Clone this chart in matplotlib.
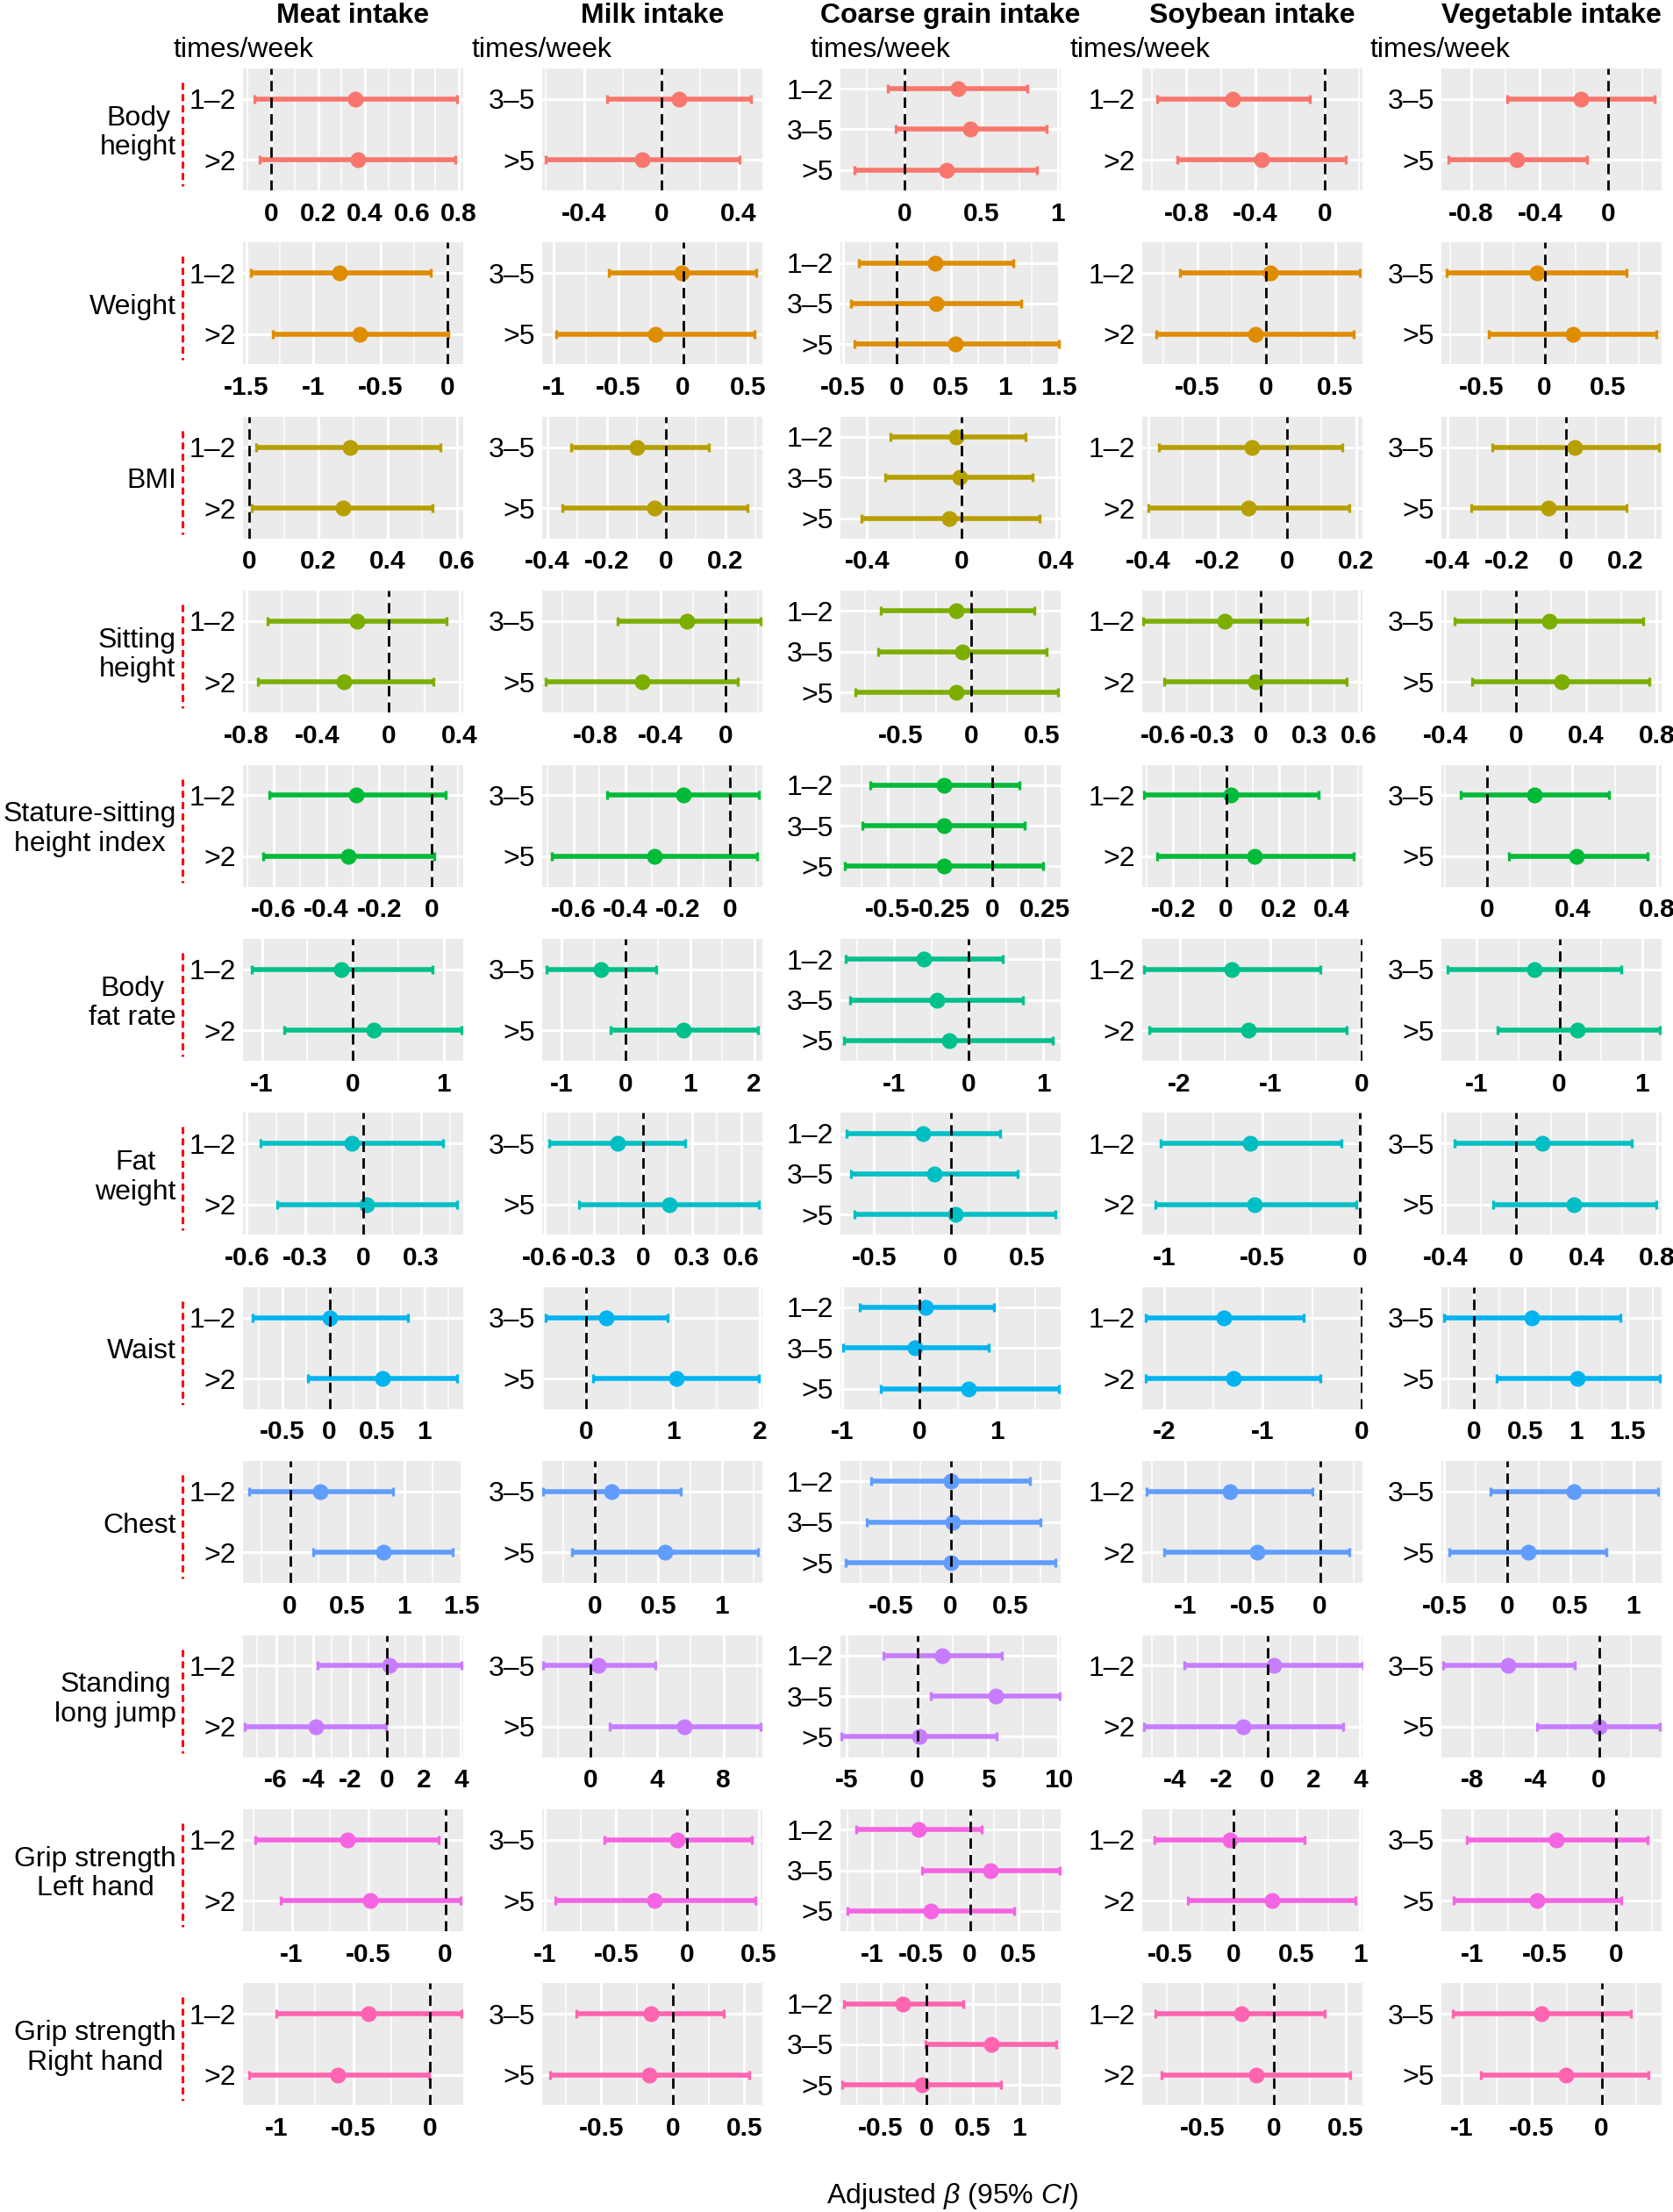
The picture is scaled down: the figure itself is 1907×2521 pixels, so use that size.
#!/usr/bin/env python3
# Forest plots: adjusted beta (95% CI) of food intake frequency vs body measures.
import matplotlib
matplotlib.use("Agg")
import matplotlib.pyplot as plt
from matplotlib.lines import Line2D
import numpy as np

plt.rcParams['font.family'] = ['Liberation Sans', 'DejaVu Sans']
plt.rcParams['mathtext.fontset'] = 'custom'
plt.rcParams['mathtext.rm'] = 'Liberation Sans'
plt.rcParams['mathtext.it'] = 'Liberation Sans:italic'

outcomes = ["Body\nheight", "Weight", "BMI", "Sitting\nheight",
            "Stature-sitting\nheight index", "Body\nfat rate", "Fat\nweight",
            "Waist", "Chest", "Standing\nlong jump",
            "Grip strength\nLeft hand", "Grip strength\nRight hand"]
colors = ["#F8766D", "#DE8C00", "#B79F00", "#7CAE00", "#00BA38", "#00C08B",
          "#00BFC4", "#00B4F0", "#619CFF", "#C77CFF", "#F564E3", "#FF64B0"]
columns = ["Meat intake", "Milk intake", "Coarse grain intake",
           "Soybean intake", "Vegetable intake"]

meat_groups = ["1\u20132", ">2"]
milk_groups = ["3\u20135", ">5"]
coarse_groups = ["1\u20132", "3\u20135", ">5"]
soy_groups = ["1\u20132", ">2"]
veg_groups = ["3\u20135", ">5"]

# (estimate, lower, upper) per group, one entry per outcome row
meat = [
    [(0.357, -0.071, 0.793), (0.371, -0.048, 0.784)],
    [(-0.806, -1.468, -0.125), (-0.653, -1.302, 0.008)],
    [(0.29, 0.02, 0.552), (0.27, 0.006, 0.531)],
    [(-0.179, -0.678, 0.325), (-0.249, -0.736, 0.252)],
    [(-0.288, -0.618, 0.051), (-0.316, -0.639, 0.008)],
    [(-0.131, -1.113, 0.875), (0.226, -0.756, 1.196)],
    [(-0.059, -0.531, 0.411), (0.02, -0.442, 0.484)],
    [(0.006, -0.811, 0.823), (0.56, -0.229, 1.349)],
    [(0.265, -0.355, 0.9), (0.815, 0.204, 1.422)],
    [(0.117, -3.77, 4.035), (-3.86, -7.69, -0.03)],
    [(-0.637, -1.236, -0.042), (-0.489, -1.07, 0.099)],
    [(-0.399, -1.0, 0.205), (-0.601, -1.177, -0.007)],
]
milk = [
    [(0.092, -0.28, 0.464), (-0.101, -0.601, 0.403)],
    [(-0.008, -0.575, 0.562), (-0.212, -0.983, 0.554)],
    [(-0.1, -0.32, 0.144), (-0.04, -0.351, 0.273)],
    [(-0.235, -0.661, 0.215), (-0.512, -1.104, 0.073)],
    [(-0.18, -0.47, 0.112), (-0.29, -0.683, 0.104)],
    [(-0.387, -1.235, 0.479), (0.899, -0.235, 2.059)],
    [(-0.155, -0.572, 0.257), (0.161, -0.388, 0.704)],
    [(0.231, -0.467, 0.935), (1.04, 0.081, 1.988)],
    [(0.132, -0.404, 0.677), (0.553, -0.179, 1.285)],
    [(0.455, -2.86, 3.87), (5.66, 1.14, 10.21)],
    [(-0.068, -0.58, 0.455), (-0.231, -0.924, 0.477)],
    [(-0.155, -0.675, 0.358), (-0.166, -0.857, 0.532)],
]
coarse = [
    [(0.347, -0.108, 0.801), (0.43, -0.058, 0.928), (0.271, -0.325, 0.866)],
    [(0.354, -0.354, 1.082), (0.364, -0.426, 1.149), (0.544, -0.39, 1.503)],
    [(-0.021, -0.302, 0.271), (-0.009, -0.323, 0.302), (-0.051, -0.423, 0.33)],
    [(-0.109, -0.64, 0.441), (-0.066, -0.66, 0.527), (-0.109, -0.82, 0.613)],
    [(-0.232, -0.584, 0.129), (-0.232, -0.621, 0.153), (-0.232, -0.703, 0.242)],
    [(-0.602, -1.658, 0.461), (-0.431, -1.591, 0.729), (-0.268, -1.68, 1.13)],
    [(-0.181, -0.681, 0.322), (-0.109, -0.652, 0.442), (0.029, -0.627, 0.688)],
    [(0.079, -0.774, 0.96), (-0.057, -0.989, 0.896), (0.638, -0.502, 1.8)],
    [(0.0, -0.667, 0.662), (0.019, -0.699, 0.75), (0.0, -0.88, 0.88)],
    [(1.767, -2.395, 5.968), (5.575, 0.98, 10.13), (0.118, -5.42, 5.654)],
    [(-0.527, -1.167, 0.119), (0.215, -0.493, 0.924), (-0.402, -1.252, 0.453)],
    [(-0.257, -0.898, 0.395), (0.7, -0.012, 1.401), (-0.054, -0.916, 0.802)],
]
soy = [
    [(-0.531, -0.968, -0.084), (-0.363, -0.855, 0.123)],
    [(0.028, -0.626, 0.679), (-0.077, -0.801, 0.638)],
    [(-0.1, -0.371, 0.161), (-0.11, -0.4, 0.182)],
    [(-0.223, -0.72, 0.285), (-0.031, -0.59, 0.528)],
    [(0.019, -0.312, 0.352), (0.108, -0.261, 0.483)],
    [(-1.428, -2.394, -0.449), (-1.243, -2.332, -0.166)],
    [(-0.562, -1.02, -0.092), (-0.539, -1.049, -0.017)],
    [(-1.394, -2.181, -0.589), (-1.292, -2.181, -0.414)],
    [(-0.668, -1.286, -0.058), (-0.469, -1.154, 0.22)],
    [(0.265, -3.59, 4.12), (-1.036, -5.325, 3.253)],
    [(-0.026, -0.622, 0.565), (0.304, -0.362, 0.962)],
    [(-0.23, -0.825, 0.354), (-0.121, -0.786, 0.529)],
]
veg = [
    [(-0.159, -0.593, 0.272), (-0.534, -0.936, -0.126)],
    [(-0.062, -0.775, 0.652), (0.229, -0.441, 0.89)],
    [(0.028, -0.25, 0.312), (-0.06, -0.321, 0.202)],
    [(0.192, -0.346, 0.724), (0.261, -0.246, 0.759)],
    [(0.22, -0.128, 0.573), (0.421, 0.102, 0.753)],
    [(-0.309, -1.356, 0.745), (0.221, -0.752, 1.215)],
    [(0.151, -0.346, 0.657), (0.33, -0.129, 0.795)],
    [(0.565, -0.293, 1.435), (1.011, 0.217, 1.821)],
    [(0.529, -0.137, 1.194), (0.163, -0.458, 0.784)],
    [(-5.72, -9.86, -1.544), (0.0, -3.895, 3.86)],
    [(-0.413, -1.039, 0.22), (-0.548, -1.131, 0.035)],
    [(-0.433, -1.067, 0.21), (-0.254, -0.865, 0.333)],
]

# axis limits and breaks per panel
meat_xlim = [(-0.120, 0.818), (-1.524, 0.117), (-0.019, 0.619), (-0.818, 0.419),
             (-0.717, 0.119), (-1.208, 1.214), (-0.620, 0.517), (-0.914, 1.411),
             (-0.412, 1.517), (-7.78, 4.12), (-1.317, 0.116), (-1.219, 0.219)]
milk_xlim = [(-0.618, 0.523), (-1.088, 0.612), (-0.418, 0.324), (-1.124, 0.225),
             (-0.720, 0.124), (-1.303, 2.126), (-0.615, 0.727), (-0.511, 2.03),
             (-0.413, 1.319), (-2.93, 10.34), (-1.019, 0.527), (-0.913, 0.626)]
coarse_xlim = [(-0.419, 1.018), (-0.523, 1.518), (-0.512, 0.419), (-0.926, 0.629),
               (-0.724, 0.324), (-1.725, 1.234), (-0.721, 0.721), (-1.025, 1.828),
               (-0.921, 0.921), (-5.46, 10.17), (-1.326, 0.930), (-0.934, 1.449)]
soy_xlim = [(-1.056, 0.220), (-0.902, 0.699), (-0.418, 0.219), (-0.727, 0.624),
            (-0.318, 0.517), (-2.412, 0.012), (-1.115, 0.014), (-2.221, 0.011),
            (-1.32, 0.315), (-5.4, 4.1), (-0.719, 1.019), (-0.918, 0.615)]
veg_xlim = [(-0.975, 0.311), (-0.819, 0.93), (-0.421, 0.321), (-0.422, 0.828),
            (-0.217, 0.821), (-1.43, 1.235), (-0.421, 0.825), (-0.321, 1.837),
            (-0.524, 1.225), (-9.96, 3.96), (-1.216, 0.317), (-1.147, 0.429)]

meat_ticks = [[0, 0.2, 0.4, 0.6, 0.8], [-1.5, -1, -0.5, 0], [0, 0.2, 0.4, 0.6],
              [-0.8, -0.4, 0, 0.4], [-0.6, -0.4, -0.2, 0], [-1, 0, 1],
              [-0.6, -0.3, 0, 0.3], [-0.5, 0, 0.5, 1], [0, 0.5, 1, 1.5],
              [-6, -4, -2, 0, 2, 4], [-1, -0.5, 0], [-1, -0.5, 0]]
milk_ticks = [[-0.4, 0, 0.4], [-1, -0.5, 0, 0.5], [-0.4, -0.2, 0, 0.2],
              [-0.8, -0.4, 0], [-0.6, -0.4, -0.2, 0], [-1, 0, 1, 2],
              [-0.6, -0.3, 0, 0.3, 0.6], [0, 1, 2], [0, 0.5, 1], [0, 4, 8],
              [-1, -0.5, 0, 0.5], [-0.5, 0, 0.5]]
coarse_ticks = [[0, 0.5, 1], [-0.5, 0, 0.5, 1, 1.5], [-0.4, 0, 0.4], [-0.5, 0, 0.5],
                [-0.5, -0.25, 0, 0.25], [-1, 0, 1], [-0.5, 0, 0.5], [-1, 0, 1],
                [-0.5, 0, 0.5], [-5, 0, 5, 10], [-1, -0.5, 0, 0.5], [-0.5, 0, 0.5, 1]]
soy_ticks = [[-0.8, -0.4, 0], [-0.5, 0, 0.5], [-0.4, -0.2, 0, 0.2],
             [-0.6, -0.3, 0, 0.3, 0.6], [-0.2, 0, 0.2, 0.4], [-2, -1, 0],
             [-1, -0.5, 0], [-2, -1, 0], [-1, -0.5, 0], [-4, -2, 0, 2, 4],
             [-0.5, 0, 0.5, 1], [-0.5, 0, 0.5]]
veg_ticks = [[-0.8, -0.4, 0], [-0.5, 0, 0.5], [-0.4, -0.2, 0, 0.2], [-0.4, 0, 0.4, 0.8],
             [0, 0.4, 0.8], [-1, 0, 1], [-0.4, 0, 0.4, 0.8], [0, 0.5, 1, 1.5],
             [-0.5, 0, 0.5, 1], [-8, -4, 0], [-1, -0.5, 0], [-1, -0.5, 0]]

col_data = [meat, milk, coarse, soy, veg]
col_groups = [meat_groups, milk_groups, coarse_groups, soy_groups, veg_groups]
col_xlim = [meat_xlim, milk_xlim, coarse_xlim, soy_xlim, veg_xlim]
col_ticks = [meat_ticks, milk_ticks, coarse_ticks, soy_ticks, veg_ticks]

# layout (pixels)
W, H = 1907, 2521
col_left = [277, 618, 958, 1302, 1643]
tw_offset = [80, 81, 35, 83, 81]
panel_w, panel_h = 251, 139
row_top0, row_step = 78, 198.4

fig = plt.figure(figsize=(W / 100, H / 100), dpi=100)


def fmt(v):
    return "%g" % v


for i in range(len(outcomes)):
    top = row_top0 + i * row_step
    c = colors[i]
    for j in range(len(columns)):
        ax = fig.add_axes([col_left[j] / W, 1 - (top + panel_h) / H,
                           panel_w / W, panel_h / H])
        ax.set_facecolor("#EBEBEB")
        groups = col_groups[j]
        rows = col_data[j][i]
        n = len(groups)
        y = np.arange(n)
        est = np.array([r[0] for r in rows])
        lo = np.array([r[1] for r in rows])
        hi = np.array([r[2] for r in rows])
        x0, x1 = col_xlim[j][i]
        ticks = col_ticks[j][i]
        step = ticks[1] - ticks[0]
        minors = []
        m = ticks[0] - step / 2
        while m > x0:
            m -= step
        while m <= x1:
            if m >= x0 and min(abs(m - t) for t in ticks) > 1e-9:
                minors.append(m)
            m += step

        ax.set_xlim(x0, x1)
        ax.set_ylim(n - 0.5, -0.5)
        ax.set_xticks(ticks)
        ax.set_xticklabels([fmt(t) for t in ticks])
        ax.set_xticks(minors, minor=True)
        ax.set_yticks(y)
        ax.set_yticklabels(groups)
        ax.grid(which="major", color="white", lw=2.2)
        ax.grid(which="minor", axis="x", color="white", lw=1.1)
        ax.set_axisbelow(True)
        for s in ax.spines.values():
            s.set_visible(False)
        ax.tick_params(which="both", length=0)
        ax.tick_params(axis="x", pad=9, labelsize=21.5)
        ax.tick_params(axis="y", pad=6, labelsize=23)
        for lab in ax.get_xticklabels():
            lab.set_fontweight("bold")

        ax.errorbar(est, y, xerr=[est - lo, hi - est], fmt="o", color=c,
                    ms=12, elinewidth=4.0, capsize=3.8, capthick=2.4, zorder=3)
        ax.axvline(0, color="black", lw=2, ls=(0, (4.3, 2.5)), zorder=4)

    # outcome label and red dashed marker
    fig.text(201 / W, 1 - (top + panel_h / 2 + 4) / H, outcomes[i], ha="right",
             va="center", multialignment="center", fontsize=23, linespacing=1.15)
    fig.add_artist(Line2D([208 / W, 208 / W],
                          [1 - (top + 16) / H, 1 - (top + panel_h - 5) / H],
                          color="#FF0000", lw=2.2, ls=(0, (2.6, 1.6))))

for j, name in enumerate(columns):
    fig.text((col_left[j] + panel_w / 2) / W, 1 - 18 / H, name, ha="center",
             va="center", fontsize=23, fontweight="bold")
    fig.text((col_left[j] - tw_offset[j]) / W, 1 - 57 / H, "times/week",
             ha="left", va="center", fontsize=23)

fig.text(1085 / W, 1 - 2503 / H, r"Adjusted $\beta$ (95% $CI$)", ha="center",
         va="center", fontsize=23)

fig.savefig("out.png", dpi=100, facecolor="white")
